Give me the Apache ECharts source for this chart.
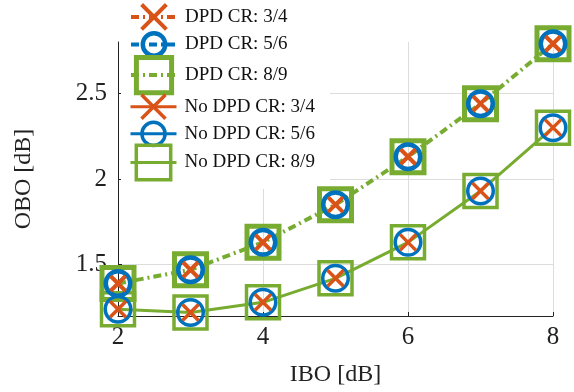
<!DOCTYPE html>
<html>
<head>
<meta charset="utf-8">
<script src="https://cdn.jsdelivr.net/npm/echarts@6/dist/echarts.min.js"></script>
<style>
html,body{margin:0;padding:0;background:#fff;}
#chart{width:574px;height:392px;}
</style>
</head>
<body>
<div id="chart"></div>
<script>
// ---- data ----
const ibo = [2, 3, 4, 5, 6, 7, 8];
const dpd34 = [1.39, 1.47, 1.63, 1.85, 2.13, 2.44, 2.79];
const dpd56 = [1.39, 1.47, 1.63, 1.85, 2.13, 2.44, 2.79];
const dpd89 = [1.39, 1.47, 1.63, 1.85, 2.13, 2.44, 2.79];
const nodpd34 = [1.24, 1.22, 1.28, 1.42, 1.63, 1.93, 2.30];
const nodpd56 = [1.24, 1.22, 1.28, 1.42, 1.63, 1.93, 2.30];
const nodpd89 = [1.24, 1.22, 1.28, 1.42, 1.63, 1.93, 2.30];
const yTicks = [1.5, 2, 2.5];
const names = ['DPD CR: 3/4', 'DPD CR: 5/6', 'DPD CR: 8/9', 'No DPD CR: 3/4', 'No DPD CR: 5/6', 'No DPD CR: 8/9'];

const ORANGE = '#D95319', BLUE = '#0072BD', GREEN = '#77AC30';
const XPATH = 'path://M0,0L10,10M10,0L0,10';
const DASHDOT = [8, 4, 2, 4];
const FONT = 'Liberation Serif';

const pairs = ys => ibo.map((x, i) => [x, ys[i]]);

function mk(name, ys, symbol, size, color, bw, lineShow, dpd, z) {
  return {
    name: name, type: 'line', data: pairs(ys), z: z,
    symbol: symbol, symbolSize: size, showAllSymbol: true,
    itemStyle: {color: 'rgba(0,0,0,0)', borderColor: color, borderWidth: bw},
    lineStyle: {color: GREEN, width: dpd ? 4 : 3, type: dpd ? DASHDOT : 'solid', opacity: lineShow ? 1 : 0},
    emphasis: {disabled: true},
    animation: false
  };
}

const series = [
  mk(names[2], dpd89, 'rect', 32, GREEN, 5, true, true, 2),
  mk(names[1], dpd56, 'circle', 24.5, BLUE, 4.5, false, true, 3),
  mk(names[0], dpd34, XPATH, 15, ORANGE, 4, false, true, 4),
  mk(names[5], nodpd89, 'rect', 33, GREEN, 3.5, true, false, 2),
  mk(names[4], nodpd56, 'circle', 25.5, BLUE, 3.5, false, false, 3),
  mk(names[3], nodpd34, XPATH, 16, ORANGE, 3.5, false, false, 4)
];

// legend rows: [name, center y, itemHeight, marker color, border width, dpd]
const legendRows = [
  [names[0], 18, 31, ORANGE, 4, true],
  [names[1], 45, 28, BLUE, 4.5, true],
  [names[2], 77, 44, GREEN, 5, true],
  [names[3], 108, 30, ORANGE, 3.5, false],
  [names[4], 135, 29, BLUE, 3.5, false],
  [names[5], 165, 43, GREEN, 3.5, false]
];
const legends = legendRows.map(r => ({
  data: [r[0]], orient: 'vertical', left: 129, top: r[1] - r[2] / 2,
  padding: 0, itemWidth: 46, itemHeight: r[2], selectedMode: false, z: 5,
  textStyle: {fontFamily: FONT, fontSize: 19, color: '#111', padding: [0, 0, 0, 3]},
  itemStyle: {color: 'rgba(0,0,0,0)', borderColor: r[3], borderWidth: r[4]},
  lineStyle: {color: r[3], width: r[5] ? 4 : 3, type: r[5] ? DASHDOT : 'solid', opacity: 1}
}));

const chart = echarts.init(document.getElementById('chart'), null, {renderer: 'canvas'});
chart.setOption({
  animation: false,
  backgroundColor: '#fff',
  grid: {left: 118, right: 21, top: 42, bottom: 75, containLabel: false},
  xAxis: {
    type: 'value', min: 2, max: 8, interval: 2,
    name: 'IBO [dB]', nameLocation: 'middle', nameGap: 47,
    nameTextStyle: {fontFamily: FONT, fontSize: 24, color: '#222'},
    axisLine: {show: true, lineStyle: {color: '#222', width: 1}},
    axisTick: {show: true, inside: true, length: 4, lineStyle: {color: '#222'}},
    axisLabel: {fontFamily: FONT, fontSize: 25, color: '#222', margin: 9},
    splitLine: {show: true, lineStyle: {color: '#dcdcdc', width: 1}}
  },
  yAxis: {
    type: 'value', min: 1.2, max: 2.8,
    name: 'OBO [dB]', nameLocation: 'middle', nameGap: 82,
    nameTextStyle: {fontFamily: FONT, fontSize: 24, color: '#222'},
    axisLine: {show: true, lineStyle: {color: '#222', width: 1}},
    axisTick: {show: true, inside: true, length: 4, lineStyle: {color: '#222'}, customValues: yTicks},
    axisLabel: {fontFamily: FONT, fontSize: 25, color: '#222', margin: 11, customValues: yTicks,
      formatter: v => String(v)},
    splitLine: {show: true, lineStyle: {color: '#dcdcdc', width: 1}}
  },
  graphic: [{type: 'rect', z: 1, shape: {x: 121, y: 0, width: 209, height: 189}, style: {fill: '#fff'}}],
  legend: legends,
  series: series
});
</script>
</body>
</html>
